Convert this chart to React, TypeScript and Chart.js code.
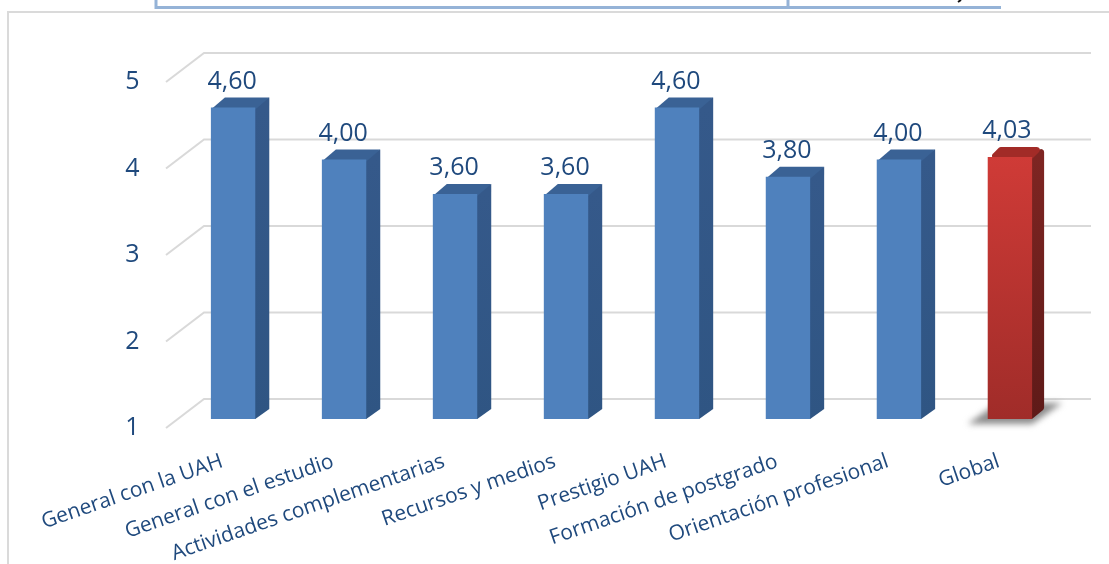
import React, { useEffect, useRef } from "react";
import { Chart, registerables } from "chart.js";

Chart.register(...registerables);

const categories = [
  "General con la UAH",
  "General con el estudio",
  "Actividades complementarias",
  "Recursos y medios",
  "Prestigio UAH",
  "Formación de postgrado",
  "Orientación profesional",
  "Global",
];
const values = [4.6, 4.0, 3.6, 3.6, 4.6, 3.8, 4.0, 4.03];
const yTicks = [1, 2, 3, 4, 5];
const highlightIndex = 7;

const TEXT = "#1F497D";
const FONT = '"Open Sans", sans-serif';
const LIFT = 9; // bars stand 9px behind the front edge of the floor
const DY = 10;

function poly(ctx: any, pts: number[][], radius: number) {
  ctx.beginPath();
  const n = pts.length;
  const mid = (a: number[], b: number[]) => [(a[0] + b[0]) / 2, (a[1] + b[1]) / 2];
  const start = mid(pts[n - 1], pts[0]);
  ctx.moveTo(start[0], start[1]);
  for (let i = 0; i < n; i++) {
    const p = pts[i];
    const nx = pts[(i + 1) % n];
    const m = mid(p, nx);
    ctx.arcTo(p[0], p[1], m[0], m[1], radius);
    ctx.lineTo(m[0], m[1]);
  }
  ctx.closePath();
}

const stage = {
  id: "stage",
  beforeDraw(chart: any) {
    const { ctx } = chart;
    ctx.save();
    ctx.fillStyle = "#fff";
    ctx.fillRect(0, 0, chart.width, chart.height);
    // page frame around the chart
    ctx.strokeStyle = "#DADADA";
    ctx.lineWidth = 2;
    ctx.beginPath();
    ctx.moveTo(8, 564);
    ctx.lineTo(8, 12);
    ctx.lineTo(1109, 12);
    ctx.stroke();
    // clipped table above the chart
    ctx.strokeStyle = "#95B3D7";
    ctx.lineWidth = 3;
    ctx.beginPath();
    ctx.moveTo(156, 0);
    ctx.lineTo(156, 7.5);
    ctx.lineTo(1001, 7.5);
    ctx.moveTo(788, 0);
    ctx.lineTo(788, 7);
    ctx.stroke();
    // cut-off descender of the table text
    ctx.strokeStyle = "#111";
    ctx.lineWidth = 2;
    ctx.beginPath();
    ctx.moveTo(961, 0);
    ctx.lineTo(958, 2);
    ctx.stroke();
    // gridlines on the 3D walls
    const y = chart.scales.y;
    ctx.strokeStyle = "#D9D9D9";
    ctx.lineWidth = 2;
    y.ticks.forEach((t: any) => {
      const py = y.getPixelForValue(t.value);
      ctx.beginPath();
      ctx.moveTo(166, py);
      ctx.lineTo(204, py - 29);
      ctx.lineTo(1091, py - 29);
      ctx.stroke();
    });
    ctx.restore();
  },
  beforeDatasetsDraw(chart: any) {
    const { ctx } = chart;
    ctx.save();
    ctx.translate(0, -LIFT);
    const meta = chart.getDatasetMeta(0);
    meta.data.forEach((bar: any, i: number) => {
      const hw = bar.width / 2;
      const l = bar.x - hw;
      const r = bar.x + hw;
      const top = bar.y;
      const base = bar.base;
      const red = i === highlightIndex;
      const dx = red ? 12 : 14;
      if (red) {
        ctx.save();
        ctx.filter = "blur(3px)";
        ctx.fillStyle = "#8c8c8c";
        ctx.beginPath();
        ctx.moveTo(l - 20, base + 5);
        ctx.lineTo(r, base + 5);
        ctx.lineTo(r + 30, base - 16);
        ctx.lineTo(l + 10, base - 16);
        ctx.closePath();
        ctx.fill();
        ctx.restore();
      }
      // right side
      const g = ctx.createLinearGradient(0, top, 0, base);
      g.addColorStop(0, red ? "#7E2522" : "#35598A");
      g.addColorStop(1, red ? "#5E1A18" : "#2F5583");
      ctx.fillStyle = g;
      const rad = red ? 3 : 0;
      poly(
        ctx,
        [
          [r - 2, top - 2],
          [r + dx, top - DY],
          [r + dx, base - DY],
          [r, base],
          [r - 2, base],
        ],
        rad,
      );
      ctx.fill();
      // top face
      ctx.fillStyle = red ? "#A22B27" : "#3A6295";
      poly(
        ctx,
        [
          [l, top + 2],
          [l + dx, top - DY],
          [r + dx, top - DY],
          [r, top + 2],
        ],
        rad,
      );
      ctx.fill();
    });
  },
  afterDatasetsDraw(chart: any) {
    const { ctx } = chart;
    ctx.restore();
    ctx.save();
    const meta = chart.getDatasetMeta(0);
    ctx.fillStyle = TEXT;
    ctx.font = `25px ${FONT}`;
    ctx.textAlign = "center";
    ctx.textBaseline = "middle";
    meta.data.forEach((bar: any, i: number) => {
      const text = values[i].toFixed(2).replace(".", ",");
      ctx.fillText(text, bar.x - (i === highlightIndex ? 3 : 1), bar.y - LIFT - 26);
    });
    ctx.restore();
  },
};

export default function App() {
  const ref = useRef<HTMLCanvasElement>(null);
  useEffect(() => {
    const chart = new Chart(ref.current as HTMLCanvasElement, {
      type: "bar",
      data: {
        labels: categories,
        datasets: [
          {
            data: values,
            barPercentage: 0.4,
            categoryPercentage: 1,
            base: 1,
            backgroundColor: (c: any) => {
              if (c.dataIndex !== highlightIndex) return "#4F81BD";
              const { ctx, chartArea } = c.chart;
              if (!chartArea) return "#C0352F";
              const g = ctx.createLinearGradient(0, chartArea.top + 80, 0, chartArea.bottom);
              g.addColorStop(0, "#D03B37");
              g.addColorStop(1, "#A02C29");
              return g;
            },
          },
        ],
      },
      options: {
        responsive: false,
        animation: false,
        layout: { padding: { top: 82, right: 43.6, bottom: 0, left: 0 } },
        plugins: { legend: { display: false }, tooltip: { enabled: false } },
        scales: {
          x: {
            grid: { display: false },
            border: { display: false },
            afterFit: (s: any) => {
              s.height = 136;
            },
            ticks: {
              color: TEXT,
              font: { family: FONT, size: 21 },
              minRotation: 19,
              maxRotation: 19,
              autoSkip: false,
              padding: 13,
              labelOffset: -11,
            },
          },
          y: {
            min: 1,
            max: 5,
            grid: { display: false },
            border: { display: false },
            afterBuildTicks: (s: any) => {
              s.ticks = yTicks.map((value) => ({ value }));
            },
            afterFit: (s: any) => {
              s.width = 177.6;
            },
            ticks: {
              color: TEXT,
              font: { family: FONT, size: 25 },
              padding: 30,
            },
          },
        },
      },
      plugins: [stage],
    } as any);
    return () => chart.destroy();
  }, []);
  return (
    <canvas
      ref={ref}
      width={1109}
      height={564}
      style={{ position: "fixed", left: 0, top: 0, display: "block" }}
    />
  );
}
